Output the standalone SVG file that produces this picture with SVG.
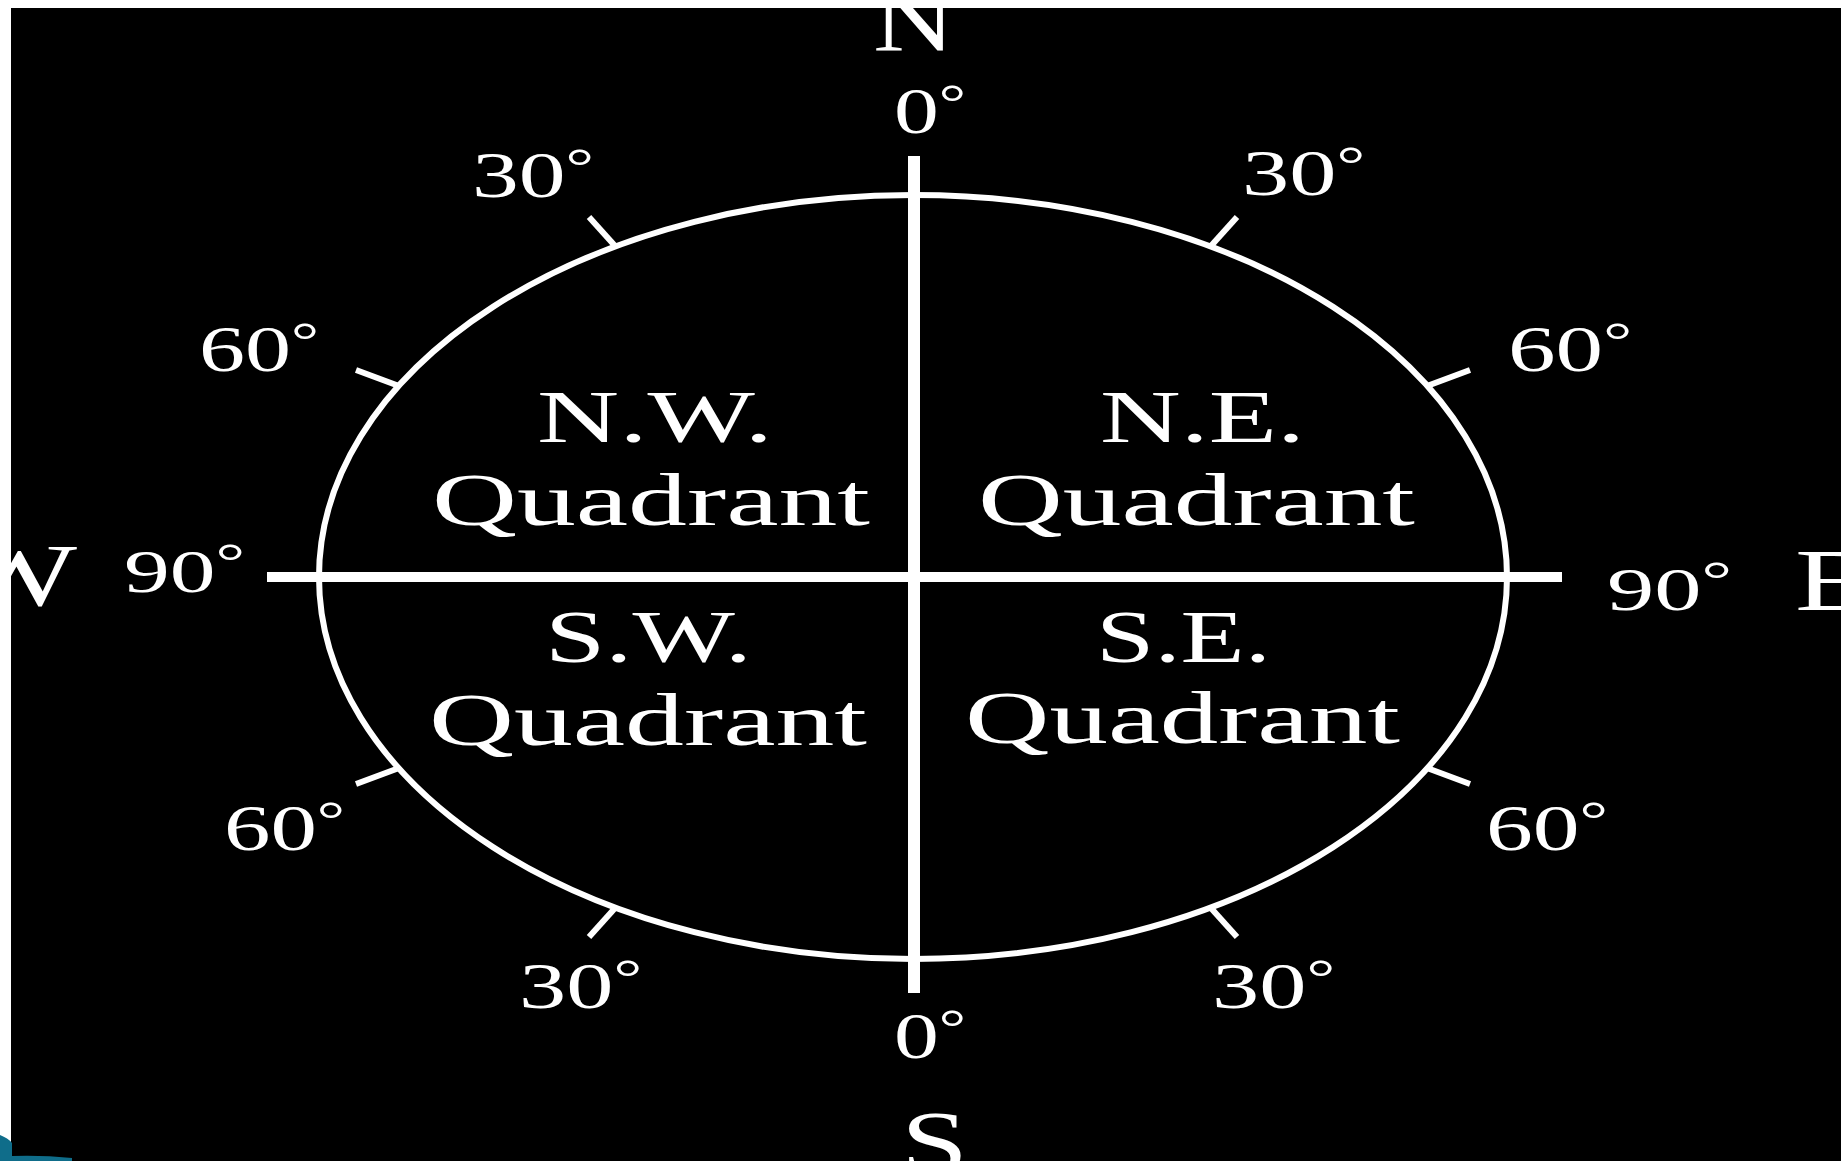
<svg xmlns="http://www.w3.org/2000/svg" width="1841" height="1161" viewBox="0 0 1841 1161">
<style>
  .lbl { fill: #ffffff; font-family: "Liberation Serif", "Times New Roman", serif; }
  .deg { font-size: 66px; }
  .deg90 { font-size: 62px; }
  .sup { font-size: 50px; }
  .quad { font-size: 75px; }
  .big { font-size: 88px; }
  .ring { fill: none; stroke: #ffffff; stroke-width: 6; }
  .axis { stroke: #ffffff; }
  .tick { stroke: #ffffff; stroke-width: 6; stroke-linecap: butt; }
</style>
<rect x="0" y="0" width="1841" height="1161" fill="#ffffff"/>
<rect x="11" y="8" width="1830" height="1153" fill="#000000"/>

<g id="ring">
  <ellipse class="ring" cx="913" cy="577" rx="594" ry="382"/>
</g>

<g id="connectors">
  <line class="axis" x1="914" y1="156" x2="914" y2="993" stroke-width="12"/>
  <line class="axis" x1="267" y1="577" x2="1562" y2="577" stroke-width="10"/>
</g>

<g id="ticks">
  <line class="tick" x1="616" y1="247" x2="589" y2="217"/>
  <line class="tick" x1="399" y1="386" x2="356" y2="370"/>
  <line class="tick" x1="1210" y1="247" x2="1237" y2="217"/>
  <line class="tick" x1="1427" y1="386" x2="1470" y2="370"/>
  <line class="tick" x1="399" y1="768" x2="356" y2="784"/>
  <line class="tick" x1="1427" y1="768" x2="1470" y2="784"/>
  <line class="tick" x1="616" y1="907" x2="589" y2="937"/>
  <line class="tick" x1="1210" y1="907" x2="1237" y2="937"/>
</g>

<g id="label-N"><text class="lbl big" x="873" y="50" textLength="82" lengthAdjust="spacingAndGlyphs">N</text></g>
<g id="label-S"><text class="lbl big" x="901" y="1172" textLength="67" lengthAdjust="spacingAndGlyphs">S</text></g>
<g id="label-W"><text class="lbl big" x="-45" y="605" textLength="122" lengthAdjust="spacingAndGlyphs">W</text></g>
<g id="label-E"><text class="lbl big" x="1795" y="610" textLength="75" lengthAdjust="spacingAndGlyphs">E</text></g>

<g id="deg-N0"><text class="lbl deg" x="894" y="133" textLength="72" lengthAdjust="spacingAndGlyphs">0<tspan class="sup" dy="-14">°</tspan></text></g>
<g id="deg-S0"><text class="lbl deg" x="894" y="1058" textLength="72" lengthAdjust="spacingAndGlyphs">0<tspan class="sup" dy="-14">°</tspan></text></g>
<g id="deg-NW30"><text class="lbl deg" x="472" y="197" textLength="122" lengthAdjust="spacingAndGlyphs">30<tspan class="sup" dy="-14">°</tspan></text></g>
<g id="deg-NE30"><text class="lbl deg" x="1242" y="195" textLength="123" lengthAdjust="spacingAndGlyphs">30<tspan class="sup" dy="-14">°</tspan></text></g>
<g id="deg-NW60"><text class="lbl deg" x="199" y="371" textLength="120" lengthAdjust="spacingAndGlyphs">60<tspan class="sup" dy="-14">°</tspan></text></g>
<g id="deg-NE60"><text class="lbl deg" x="1508" y="371" textLength="124" lengthAdjust="spacingAndGlyphs">60<tspan class="sup" dy="-14">°</tspan></text></g>
<g id="deg-W90"><text class="lbl deg90" x="124" y="592" textLength="121" lengthAdjust="spacingAndGlyphs">90<tspan class="sup" dy="-14">°</tspan></text></g>
<g id="deg-E90"><text class="lbl deg90" x="1607" y="610" textLength="125" lengthAdjust="spacingAndGlyphs">90<tspan class="sup" dy="-14">°</tspan></text></g>
<g id="deg-SW60"><text class="lbl deg" x="224" y="850" textLength="121" lengthAdjust="spacingAndGlyphs">60<tspan class="sup" dy="-14">°</tspan></text></g>
<g id="deg-SE60"><text class="lbl deg" x="1486" y="850" textLength="122" lengthAdjust="spacingAndGlyphs">60<tspan class="sup" dy="-14">°</tspan></text></g>
<g id="deg-SW30"><text class="lbl deg" x="519" y="1008" textLength="123" lengthAdjust="spacingAndGlyphs">30<tspan class="sup" dy="-14">°</tspan></text></g>
<g id="deg-SE30"><text class="lbl deg" x="1212" y="1008" textLength="123" lengthAdjust="spacingAndGlyphs">30<tspan class="sup" dy="-14">°</tspan></text></g>

<g id="quad-NW">
  <text class="lbl quad" x="537" y="442" textLength="236" lengthAdjust="spacingAndGlyphs">N.W.</text>
  <text class="lbl quad" x="432" y="525" textLength="438" lengthAdjust="spacingAndGlyphs">Quadrant</text>
</g>
<g id="quad-NE">
  <text class="lbl quad" x="1100" y="442" textLength="205" lengthAdjust="spacingAndGlyphs">N.E.</text>
  <text class="lbl quad" x="978" y="525" textLength="437" lengthAdjust="spacingAndGlyphs">Quadrant</text>
</g>
<g id="quad-SW">
  <text class="lbl quad" x="545" y="662" textLength="207" lengthAdjust="spacingAndGlyphs">S.W.</text>
  <text class="lbl quad" x="429" y="745" textLength="438" lengthAdjust="spacingAndGlyphs">Quadrant</text>
</g>
<g id="quad-SE">
  <text class="lbl quad" x="1096" y="662" textLength="175" lengthAdjust="spacingAndGlyphs">S.E.</text>
  <text class="lbl quad" x="965" y="743" textLength="435" lengthAdjust="spacingAndGlyphs">Quadrant</text>
</g>

<rect x="0" y="0" width="11" height="1161" fill="#ffffff"/>
<rect x="0" y="0" width="1841" height="8" fill="#ffffff"/>
<path d="M0,1135 Q8,1138 12,1143 L12,1156 Q42,1155 72,1158 L72,1161 L0,1161 Z" fill="#0f6d8a"/>
</svg>
